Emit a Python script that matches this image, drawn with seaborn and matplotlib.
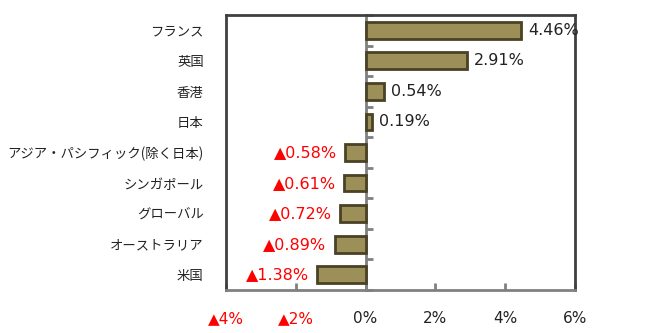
import matplotlib
matplotlib.use("Agg")
import matplotlib.pyplot as plt
import seaborn as sns
import pandas as pd

categories = ["フランス", "英国", "香港", "日本", "アジア・パシフィック(除く日本)",
              "シンガポール", "グローバル", "オーストラリア", "米国"]
values = [4.46, 2.91, 0.54, 0.19, -0.58, -0.61, -0.72, -0.89, -1.38]
x_ticks = [-4, -2, 0, 2, 4, 6]

sns.set_style("white")
plt.rcParams["font.family"] = ["Noto Sans CJK JP", "DejaVu Sans"]
NUM_FONT = ["DejaVu Sans", "Noto Sans CJK JP"]

RED = "#ff0000"
FRAME = "#404040"
AXIS_GRAY = "#808080"


def fmt_pct(v, digits=2):
    s = f"{abs(v):.{digits}f}%"
    return ("▲" + s) if v < 0 else s


df = pd.DataFrame({"region": categories, "value": values})

fig = plt.figure(figsize=(6.68, 3.33), dpi=100)
ax = fig.add_axes([0.3383, 0.129, 0.5225, 0.826])

sns.barplot(data=df, x="value", y="region", orient="h", ax=ax,
            color="#9c8f58", edgecolor="#4a4226", linewidth=2.0,
            width=0.55, saturation=1)

ax.set_xlim(x_ticks[0], x_ticks[-1])
ax.set_ylim(len(categories) - 0.5, -0.5)
ax.set_xlabel("")
ax.set_ylabel("")

# x axis: ticks pointing into the plot, negatives shown with a triangle
ax.set_xticks(x_ticks)
ax.set_xticklabels([fmt_pct(t, 0) for t in x_ticks])
for lbl, t in zip(ax.get_xticklabels(), x_ticks):
    lbl.set_color(RED if t < 0 else "#222222")
    lbl.set_family(NUM_FONT)
    lbl.set_fontsize(11)
ax.tick_params(axis="x", direction="in", length=5, width=2,
               color=AXIS_GRAY, pad=15, bottom=True)

# y axis labels on the far left, no tick marks
ax.tick_params(axis="y", length=0, pad=16, labelsize=9.6, labelcolor="#222222")

for side in ["left", "top", "right"]:
    ax.spines[side].set_color(FRAME)
    ax.spines[side].set_linewidth(2)
ax.spines["bottom"].set_color(AXIS_GRAY)
ax.spines["bottom"].set_linewidth(2)

# zero line carrying category-boundary ticks
xmin, xmax = ax.get_xlim()
zero_axis = ax.secondary_yaxis((0 - xmin) / (xmax - xmin))
zero_axis.spines["left"].set_color(AXIS_GRAY)
zero_axis.spines["left"].set_linewidth(2)
zero_axis.set_yticks([i + 0.5 for i in range(-1, len(categories))])
zero_axis.set_yticklabels([])
zero_axis.tick_params(axis="y", direction="in", length=5, width=2,
                      color=AXIS_GRAY)

# value labels
for bar, v in zip(ax.patches, values):
    yc = bar.get_y() + bar.get_height() / 2
    if v >= 0:
        ax.annotate(fmt_pct(v), (v, yc), xytext=(5, 0), textcoords="offset points",
                    ha="left", va="center", fontsize=11.5, color="#222222",
                    family=NUM_FONT)
    else:
        ax.annotate(fmt_pct(v), (v, yc), xytext=(-6, 0), textcoords="offset points",
                    ha="right", va="center", fontsize=11.5, color=RED,
                    family=NUM_FONT)

fig.savefig("out.png", dpi=100)
